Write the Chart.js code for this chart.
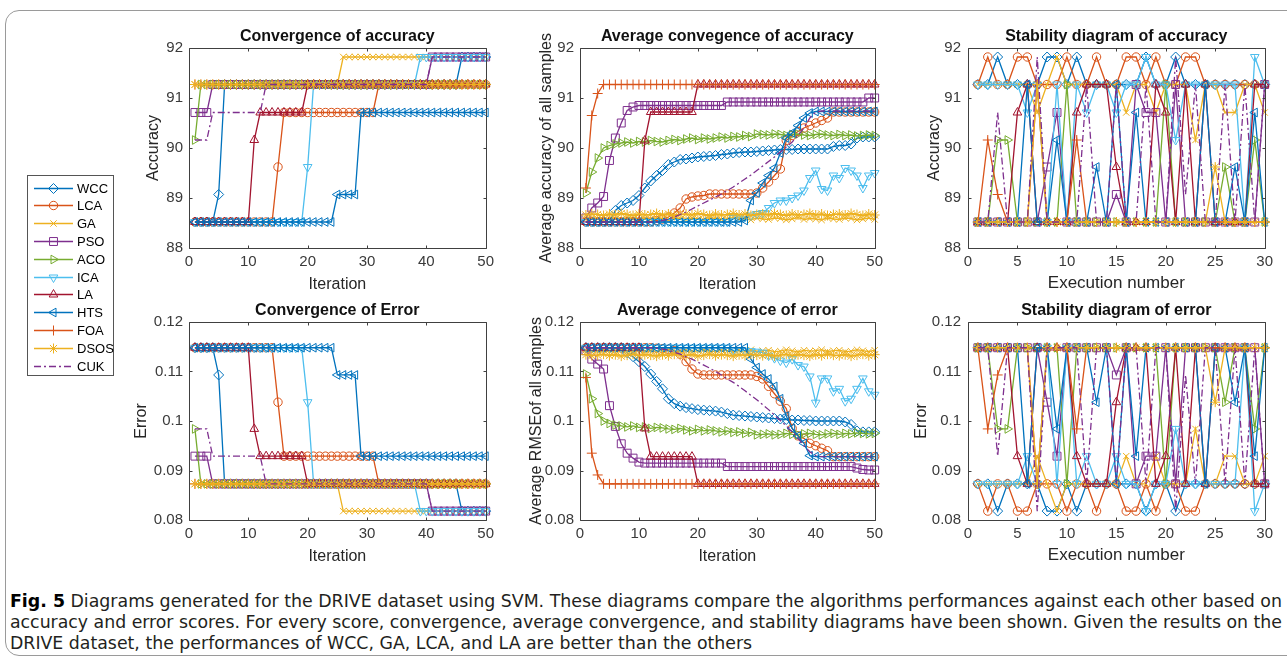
<!DOCTYPE html>
<html><head><meta charset="utf-8">
<script src="https://cdn.jsdelivr.net/npm/chart.js@4.4.1/dist/chart.umd.min.js"></script>
<style>
html,body{margin:0;padding:0;background:#fff}
body{width:1287px;height:662px;position:relative;overflow:hidden}
#frame{position:absolute;left:5px;top:10px;width:1310px;height:646px;border:1.5px solid #9a9a9a;border-radius:14px;box-sizing:border-box}
canvas{position:absolute;display:block}
.cap{position:absolute;left:10px;white-space:nowrap;font-family:"Liberation Sans Narrow","DejaVu Sans Condensed","Liberation Sans",sans-serif;font-size:18px;color:#231f20;transform-origin:0 0;line-height:21px}
.cap b{font-weight:bold;color:#000}
</style></head><body>
<div id="frame"></div>
<canvas id="lg" width="100" height="215" style="left:20px;top:168px"></canvas>
<canvas id="c1" width="369" height="274" style="left:130px;top:20px"></canvas>
<canvas id="c2" width="368" height="274" style="left:520px;top:20px"></canvas>
<canvas id="c3" width="378" height="274" style="left:900px;top:20px"></canvas>
<canvas id="c4" width="369" height="272" style="left:130px;top:294px"></canvas>
<canvas id="c5" width="368" height="272" style="left:520px;top:294px"></canvas>
<canvas id="c6" width="378" height="272" style="left:900px;top:294px"></canvas>
<div class="cap" id="l1" style="top:590px"><b>Fig. 5</b> Diagrams generated for the DRIVE dataset using SVM. These diagrams compare the algorithms performances against each other based on</div>
<div class="cap" id="l2" style="top:611px">accuracy and error scores. For every score, convergence, average convergence, and stability diagrams have been shown. Given the results on the</div>
<div class="cap" id="l3" style="top:632px">DRIVE dataset, the performances of WCC, GA, LCA, and LA are better than the others</div>
<script>
// ---------------- DATA ----------------
const algorithms = ['WCC','LCA','GA','PSO','ACO','ICA','LA','HTS','FOA','DSOS','CUK'];
const iterations = [1,2,3,4,5,6,7,8,9,10,11,12,13,14,15,16,17,18,19,20,21,22,23,24,25,26,27,28,29,30,31,32,33,34,35,36,37,38,39,40,41,42,43,44,45,46,47,48,49,50];
const executions = [1,2,3,4,5,6,7,8,9,10,11,12,13,14,15,16,17,18,19,20,21,22,23,24,25,26,27,28,29,30];
const accTicks = [88,89,90,91,92];
const errTicks = [0.08,0.09,0.1,0.11,0.12];

// Convergence of accuracy
const accConv_WCC = [88.52,88.52,88.52,88.52,89.07,91.27,91.27,91.27,91.27,91.27,
91.27,91.27,91.27,91.27,91.27,91.27,91.27,91.27,91.27,91.27,
91.27,91.27,91.27,91.27,91.27,91.27,91.27,91.27,91.27,91.27,
91.27,91.27,91.27,91.27,91.27,91.27,91.27,91.27,91.27,91.27,
91.27,91.27,91.27,91.27,91.27,91.82,91.82,91.82,91.82,91.82];
const accConv_LCA = [88.52,88.52,88.52,88.52,88.52,88.52,88.52,88.52,88.52,88.52,
88.52,88.52,88.52,88.52,89.62,90.71,90.71,90.71,90.71,90.71,
90.71,90.71,90.71,90.71,90.71,90.71,90.71,90.71,90.71,90.71,
90.71,91.27,91.27,91.27,91.27,91.27,91.27,91.27,91.27,91.27,
91.27,91.27,91.27,91.27,91.27,91.27,91.27,91.27,91.27,91.27];
const accConv_GA = [91.27,91.27,91.27,91.27,91.27,91.27,91.27,91.27,91.27,91.27,
91.27,91.27,91.27,91.27,91.27,91.27,91.27,91.27,91.27,91.27,
91.27,91.27,91.27,91.27,91.27,91.82,91.82,91.82,91.82,91.82,
91.82,91.82,91.82,91.82,91.82,91.82,91.82,91.82,91.82,91.82,
91.82,91.82,91.82,91.82,91.82,91.82,91.82,91.82,91.82,91.82];
const accConv_PSO = [90.71,90.71,90.71,91.27,91.27,91.27,91.27,91.27,91.27,91.27,
91.27,91.27,91.27,91.27,91.27,91.27,91.27,91.27,91.27,91.27,
91.27,91.27,91.27,91.27,91.27,91.27,91.27,91.27,91.27,91.27,
91.27,91.27,91.27,91.27,91.27,91.27,91.27,91.27,91.27,91.27,
91.82,91.82,91.82,91.82,91.82,91.82,91.82,91.82,91.82,91.82];
const accConv_ACO = [90.16,91.27,91.27,91.27,91.27,91.27,91.27,91.27,91.27,91.27,
91.27,91.27,91.27,91.27,91.27,91.27,91.27,91.27,91.27,91.27,
91.27,91.27,91.27,91.27,91.27,91.27,91.27,91.27,91.27,91.27,
91.27,91.27,91.27,91.27,91.27,91.27,91.27,91.27,91.27,91.27,
91.27,91.27,91.27,91.27,91.27,91.27,91.27,91.27,91.27,91.27];
const accConv_ICA = [88.52,88.52,88.52,88.52,88.52,88.52,88.52,88.52,88.52,88.52,
88.52,88.52,88.52,88.52,88.52,88.52,88.52,88.52,88.52,89.62,
91.27,91.27,91.27,91.27,91.27,91.27,91.27,91.27,91.27,91.27,
91.27,91.27,91.27,91.27,91.27,91.27,91.27,91.27,91.82,91.82,
91.82,91.82,91.82,91.82,91.82,91.82,91.82,91.82,91.82,91.82];
const accConv_LA = [88.52,88.52,88.52,88.52,88.52,88.52,88.52,88.52,88.52,88.52,
90.16,90.71,90.71,90.71,90.71,90.71,90.71,90.71,90.71,91.27,
91.27,91.27,91.27,91.27,91.27,91.27,91.27,91.27,91.27,91.27,
91.27,91.27,91.27,91.27,91.27,91.27,91.27,91.27,91.27,91.27,
91.27,91.27,91.27,91.27,91.27,91.27,91.27,91.27,91.27,91.27];
const accConv_HTS = [88.52,88.52,88.52,88.52,88.52,88.52,88.52,88.52,88.52,88.52,
88.52,88.52,88.52,88.52,88.52,88.52,88.52,88.52,88.52,88.52,
88.52,88.52,88.52,88.52,89.07,89.07,89.07,89.07,90.71,90.71,
90.71,90.71,90.71,90.71,90.71,90.71,90.71,90.71,90.71,90.71,
90.71,90.71,90.71,90.71,90.71,90.71,90.71,90.71,90.71,90.71];
const accConv_FOA = [91.27,91.27,91.27,91.27,91.27,91.27,91.27,91.27,91.27,91.27,
91.27,91.27,91.27,91.27,91.27,91.27,91.27,91.27,91.27,91.27,
91.27,91.27,91.27,91.27,91.27,91.27,91.27,91.27,91.27,91.27,
91.27,91.27,91.27,91.27,91.27,91.27,91.27,91.27,91.27,91.27,
91.27,91.27,91.27,91.27,91.27,91.27,91.27,91.27,91.27,91.27];
const accConv_DSOS = [91.27,91.27,91.27,91.27,91.27,91.27,91.27,91.27,91.27,91.27,
91.27,91.27,91.27,91.27,91.27,91.27,91.27,91.27,91.27,91.27,
91.27,91.27,91.27,91.27,91.27,91.27,91.27,91.27,91.27,91.27,
91.27,91.27,91.27,91.27,91.27,91.27,91.27,91.27,91.27,91.27,
91.27,91.27,91.27,91.27,91.27,91.27,91.27,91.27,91.27,91.27];
const accConv_CUK = [90.16,90.16,90.16,90.71,90.71,90.71,90.71,90.71,90.71,90.71,
90.71,90.71,91.27,91.27,91.27,91.27,91.27,91.27,91.27,91.27,
91.27,91.27,91.27,91.27,91.27,91.27,91.27,91.27,91.27,91.27,
91.27,91.27,91.27,91.27,91.27,91.27,91.27,91.27,91.27,91.27,
91.82,91.82,91.82,91.82,91.82,91.82,91.82,91.82,91.82,91.82];

// Average convergence of accuracy
const accAvg_WCC = [88.52,88.52,88.52,88.52,88.52,88.75,88.85,88.9,88.95,89.05,
89.2,89.34,89.45,89.55,89.67,89.72,89.77,89.78,89.8,89.82,
89.83,89.84,89.85,89.87,89.88,89.9,89.91,89.92,89.92,89.93,
89.94,89.95,89.96,89.97,89.97,89.97,89.98,89.98,89.98,89.98,
89.98,89.98,90.03,90.05,90.05,90.08,90.2,90.22,90.22,90.22];
const accAvg_LCA = [88.52,88.52,88.52,88.52,88.52,88.52,88.52,88.52,88.52,88.52,
88.52,88.52,88.55,88.58,88.62,88.7,88.8,88.98,89.02,89.04,
89.05,89.08,89.08,89.08,89.08,89.08,89.08,89.08,89.08,89.1,
89.2,89.32,89.45,89.58,90.15,90.25,90.33,90.4,90.45,90.5,
90.55,90.6,90.72,90.72,90.72,90.72,90.72,90.72,90.72,90.72];
const accAvg_GA = [88.57,88.6,88.58,88.56,88.6,88.58,88.57,88.61,88.58,88.56,
88.59,88.57,88.6,88.58,88.56,88.6,88.59,88.57,88.6,88.58,
88.56,88.59,88.6,88.57,88.58,88.61,88.57,88.59,88.56,88.6,
88.58,88.57,88.6,88.59,88.56,88.58,88.61,88.57,88.59,88.58,
88.56,88.6,88.58,88.57,88.6,88.59,88.56,88.58,88.6,88.57];
const accAvg_PSO = [88.6,88.8,88.9,89.03,89.75,90.2,90.5,90.75,90.82,90.85,
90.85,90.85,90.85,90.85,90.85,90.85,90.85,90.85,90.85,90.85,
90.85,90.85,90.85,90.85,90.92,90.92,90.92,90.92,90.92,90.92,
90.92,90.92,90.92,90.92,90.92,90.92,90.92,90.92,90.92,90.92,
90.92,90.92,90.92,90.92,90.92,90.92,90.92,90.92,91.0,91.0];
const accAvg_ACO = [89.1,89.52,89.8,90.0,90.05,90.08,90.1,90.12,90.1,90.13,
90.12,90.15,90.13,90.12,90.15,90.17,90.15,90.18,90.2,90.17,
90.2,90.18,90.2,90.22,90.2,90.23,90.22,90.25,90.23,90.28,
90.27,90.26,90.28,90.27,90.25,90.27,90.28,90.26,90.25,90.27,
90.28,90.26,90.25,90.27,90.25,90.26,90.24,90.25,90.26,90.25];
const accAvg_ICA = [88.52,88.52,88.52,88.52,88.52,88.52,88.52,88.52,88.52,88.52,
88.52,88.52,88.52,88.52,88.52,88.52,88.52,88.52,88.52,88.52,
88.52,88.52,88.52,88.52,88.52,88.6,88.62,88.62,88.65,88.68,
88.7,88.8,88.9,88.95,88.95,89.0,89.05,89.15,89.4,89.55,
89.18,89.15,89.45,89.4,89.6,89.55,89.45,89.2,89.45,89.5];
const accAvg_LA = [88.52,88.52,88.52,88.52,88.52,88.52,88.52,88.52,88.52,88.52,
90.15,90.72,90.72,90.72,90.72,90.72,90.72,90.72,90.72,91.27,
91.27,91.27,91.27,91.27,91.27,91.27,91.27,91.27,91.27,91.27,
91.27,91.27,91.27,91.27,91.27,91.27,91.27,91.27,91.27,91.27,
91.27,91.27,91.27,91.27,91.27,91.27,91.27,91.27,91.27,91.27];
const accAvg_HTS = [88.52,88.52,88.52,88.52,88.52,88.52,88.52,88.52,88.52,88.52,
88.52,88.52,88.52,88.52,88.52,88.52,88.52,88.52,88.52,88.52,
88.52,88.52,88.52,88.52,88.52,88.52,88.52,88.55,88.95,89.1,
89.3,89.45,89.6,89.9,90.2,90.3,90.45,90.6,90.7,90.73,
90.73,90.73,90.73,90.73,90.73,90.73,90.73,90.73,90.73,90.73];
const accAvg_FOA = [89.2,90.65,91.09,91.27,91.27,91.27,91.27,91.27,91.27,91.27,
91.27,91.27,91.27,91.27,91.27,91.27,91.27,91.27,91.27,91.27,
91.27,91.27,91.27,91.27,91.27,91.27,91.27,91.27,91.27,91.27,
91.27,91.27,91.27,91.27,91.27,91.27,91.27,91.27,91.27,91.27,
91.27,91.27,91.27,91.27,91.27,91.27,91.27,91.27,91.27,91.27];
const accAvg_DSOS = [88.66,88.68,88.67,88.65,88.68,88.66,88.69,88.67,88.65,88.68,
88.66,88.67,88.69,88.66,88.68,88.65,88.67,88.68,88.66,88.69,
88.67,88.65,88.68,88.66,88.67,88.69,88.66,88.68,88.65,88.67,
88.68,88.66,88.69,88.67,88.65,88.68,88.66,88.67,88.69,88.66,
88.68,88.65,88.67,88.68,88.66,88.69,88.67,88.65,88.68,88.66];
const accAvg_CUK = [88.52,88.52,88.52,88.52,88.52,88.52,88.52,88.52,88.52,88.52,
88.52,88.52,88.52,88.55,88.58,88.62,88.67,88.72,88.78,88.84,
88.9,88.96,89.02,89.08,89.15,89.22,89.3,89.38,89.46,89.55,
89.64,89.73,89.82,89.92,90.02,90.12,90.25,90.4,90.6,90.72,
90.74,90.74,90.74,90.74,90.74,90.74,90.74,90.74,90.74,90.74];

// Stability of accuracy
const accStab_WCC = [91.27,91.27,91.82,91.27,91.27,91.27,91.27,91.82,91.82,91.27,91.82,91.27,91.27,91.27,91.27,91.27,91.27,91.82,91.27,91.27,91.82,91.27,91.27,91.27,91.27,91.27,91.27,91.27,91.27,91.27];
const accStab_LCA = [91.27,91.82,91.27,91.27,91.82,91.82,91.27,91.27,91.27,91.82,91.27,91.27,91.82,91.27,91.27,91.82,91.82,91.27,91.82,91.27,91.27,91.82,91.82,91.27,91.27,91.27,91.27,91.27,91.27,91.27];
const accStab_GA = [91.27,91.27,91.27,91.27,91.27,91.27,90.71,91.27,91.82,91.27,91.27,91.27,91.27,91.27,91.27,90.71,91.27,91.27,90.71,91.27,91.27,91.27,90.16,91.27,91.27,90.71,90.71,91.27,91.27,90.71];
const accStab_PSO = [88.52,88.52,88.52,88.52,88.52,88.52,88.52,89.62,90.71,88.52,88.52,88.52,88.52,88.52,89.07,88.52,91.27,90.71,90.71,88.52,91.27,88.52,88.52,88.52,88.52,88.52,88.52,88.52,88.52,91.27];
const accStab_ACO = [88.52,88.52,90.16,90.16,88.52,88.52,88.52,88.52,88.52,91.27,88.52,88.52,88.52,88.52,88.52,88.52,88.52,88.52,88.52,91.27,88.52,88.52,88.52,88.52,88.52,89.62,88.52,88.52,90.16,88.52];
const accStab_ICA = [91.27,91.27,91.27,91.27,91.27,90.71,91.27,88.52,91.27,88.52,91.27,90.71,91.27,91.27,90.71,91.27,91.27,91.82,91.27,91.27,90.16,91.27,91.27,91.27,91.27,91.27,91.27,88.52,91.82,91.27];
const accStab_LA = [88.52,88.52,88.52,88.52,90.71,91.27,88.52,88.52,88.52,88.52,90.71,91.27,91.27,91.27,89.62,88.52,88.52,88.52,91.27,90.71,88.52,91.27,88.52,91.27,88.52,88.52,88.52,88.52,91.27,91.27];
const accStab_HTS = [88.52,88.52,88.52,88.52,88.52,91.27,88.52,88.52,90.16,88.52,88.52,88.52,89.62,88.52,91.27,88.52,90.71,88.52,88.52,88.52,88.52,88.52,88.52,91.27,88.52,88.52,89.62,88.52,90.71,88.52];
const accStab_FOA = [88.52,90.16,89.07,88.52,88.52,88.52,91.27,88.52,88.52,88.52,90.16,88.52,88.52,88.52,88.52,88.52,88.52,88.52,88.52,88.52,88.52,88.52,88.52,88.52,88.52,88.52,88.52,88.52,88.52,88.52];
const accStab_DSOS = [88.52,88.52,88.52,88.52,88.52,88.52,91.27,88.52,88.52,88.52,88.52,88.52,88.52,88.52,88.52,88.52,88.52,88.52,88.52,88.52,88.52,88.52,88.52,88.52,89.62,88.52,88.52,88.52,88.52,88.52];
const accStab_CUK = [88.52,88.52,90.71,88.52,88.52,88.52,91.82,88.52,88.52,88.52,88.52,91.27,88.52,88.52,91.27,88.52,88.52,91.27,88.52,88.52,91.82,89.07,91.27,88.52,88.52,91.27,88.52,91.27,88.52,91.27];

// Convergence of error
const errConv_WCC = [0.1148,0.1148,0.1148,0.1148,0.1093,0.0873,0.0873,0.0873,0.0873,0.0873,
0.0873,0.0873,0.0873,0.0873,0.0873,0.0873,0.0873,0.0873,0.0873,0.0873,
0.0873,0.0873,0.0873,0.0873,0.0873,0.0873,0.0873,0.0873,0.0873,0.0873,
0.0873,0.0873,0.0873,0.0873,0.0873,0.0873,0.0873,0.0873,0.0873,0.0873,
0.0873,0.0873,0.0873,0.0873,0.0873,0.0818,0.0818,0.0818,0.0818,0.0818];
const errConv_LCA = [0.1148,0.1148,0.1148,0.1148,0.1148,0.1148,0.1148,0.1148,0.1148,0.1148,
0.1148,0.1148,0.1148,0.1148,0.1038,0.0929,0.0929,0.0929,0.0929,0.0929,
0.0929,0.0929,0.0929,0.0929,0.0929,0.0929,0.0929,0.0929,0.0929,0.0929,
0.0929,0.0873,0.0873,0.0873,0.0873,0.0873,0.0873,0.0873,0.0873,0.0873,
0.0873,0.0873,0.0873,0.0873,0.0873,0.0873,0.0873,0.0873,0.0873,0.0873];
const errConv_GA = [0.0873,0.0873,0.0873,0.0873,0.0873,0.0873,0.0873,0.0873,0.0873,0.0873,
0.0873,0.0873,0.0873,0.0873,0.0873,0.0873,0.0873,0.0873,0.0873,0.0873,
0.0873,0.0873,0.0873,0.0873,0.0873,0.0818,0.0818,0.0818,0.0818,0.0818,
0.0818,0.0818,0.0818,0.0818,0.0818,0.0818,0.0818,0.0818,0.0818,0.0818,
0.0818,0.0818,0.0818,0.0818,0.0818,0.0818,0.0818,0.0818,0.0818,0.0818];
const errConv_PSO = [0.0929,0.0929,0.0929,0.0873,0.0873,0.0873,0.0873,0.0873,0.0873,0.0873,
0.0873,0.0873,0.0873,0.0873,0.0873,0.0873,0.0873,0.0873,0.0873,0.0873,
0.0873,0.0873,0.0873,0.0873,0.0873,0.0873,0.0873,0.0873,0.0873,0.0873,
0.0873,0.0873,0.0873,0.0873,0.0873,0.0873,0.0873,0.0873,0.0873,0.0873,
0.0818,0.0818,0.0818,0.0818,0.0818,0.0818,0.0818,0.0818,0.0818,0.0818];
const errConv_ACO = [0.0984,0.0873,0.0873,0.0873,0.0873,0.0873,0.0873,0.0873,0.0873,0.0873,
0.0873,0.0873,0.0873,0.0873,0.0873,0.0873,0.0873,0.0873,0.0873,0.0873,
0.0873,0.0873,0.0873,0.0873,0.0873,0.0873,0.0873,0.0873,0.0873,0.0873,
0.0873,0.0873,0.0873,0.0873,0.0873,0.0873,0.0873,0.0873,0.0873,0.0873,
0.0873,0.0873,0.0873,0.0873,0.0873,0.0873,0.0873,0.0873,0.0873,0.0873];
const errConv_ICA = [0.1148,0.1148,0.1148,0.1148,0.1148,0.1148,0.1148,0.1148,0.1148,0.1148,
0.1148,0.1148,0.1148,0.1148,0.1148,0.1148,0.1148,0.1148,0.1148,0.1038,
0.0873,0.0873,0.0873,0.0873,0.0873,0.0873,0.0873,0.0873,0.0873,0.0873,
0.0873,0.0873,0.0873,0.0873,0.0873,0.0873,0.0873,0.0873,0.0818,0.0818,
0.0818,0.0818,0.0818,0.0818,0.0818,0.0818,0.0818,0.0818,0.0818,0.0818];
const errConv_LA = [0.1148,0.1148,0.1148,0.1148,0.1148,0.1148,0.1148,0.1148,0.1148,0.1148,
0.0984,0.0929,0.0929,0.0929,0.0929,0.0929,0.0929,0.0929,0.0929,0.0873,
0.0873,0.0873,0.0873,0.0873,0.0873,0.0873,0.0873,0.0873,0.0873,0.0873,
0.0873,0.0873,0.0873,0.0873,0.0873,0.0873,0.0873,0.0873,0.0873,0.0873,
0.0873,0.0873,0.0873,0.0873,0.0873,0.0873,0.0873,0.0873,0.0873,0.0873];
const errConv_HTS = [0.1148,0.1148,0.1148,0.1148,0.1148,0.1148,0.1148,0.1148,0.1148,0.1148,
0.1148,0.1148,0.1148,0.1148,0.1148,0.1148,0.1148,0.1148,0.1148,0.1148,
0.1148,0.1148,0.1148,0.1148,0.1093,0.1093,0.1093,0.1093,0.0929,0.0929,
0.0929,0.0929,0.0929,0.0929,0.0929,0.0929,0.0929,0.0929,0.0929,0.0929,
0.0929,0.0929,0.0929,0.0929,0.0929,0.0929,0.0929,0.0929,0.0929,0.0929];
const errConv_FOA = [0.0873,0.0873,0.0873,0.0873,0.0873,0.0873,0.0873,0.0873,0.0873,0.0873,
0.0873,0.0873,0.0873,0.0873,0.0873,0.0873,0.0873,0.0873,0.0873,0.0873,
0.0873,0.0873,0.0873,0.0873,0.0873,0.0873,0.0873,0.0873,0.0873,0.0873,
0.0873,0.0873,0.0873,0.0873,0.0873,0.0873,0.0873,0.0873,0.0873,0.0873,
0.0873,0.0873,0.0873,0.0873,0.0873,0.0873,0.0873,0.0873,0.0873,0.0873];
const errConv_DSOS = [0.0873,0.0873,0.0873,0.0873,0.0873,0.0873,0.0873,0.0873,0.0873,0.0873,
0.0873,0.0873,0.0873,0.0873,0.0873,0.0873,0.0873,0.0873,0.0873,0.0873,
0.0873,0.0873,0.0873,0.0873,0.0873,0.0873,0.0873,0.0873,0.0873,0.0873,
0.0873,0.0873,0.0873,0.0873,0.0873,0.0873,0.0873,0.0873,0.0873,0.0873,
0.0873,0.0873,0.0873,0.0873,0.0873,0.0873,0.0873,0.0873,0.0873,0.0873];
const errConv_CUK = [0.0984,0.0984,0.0984,0.0929,0.0929,0.0929,0.0929,0.0929,0.0929,0.0929,
0.0929,0.0929,0.0873,0.0873,0.0873,0.0873,0.0873,0.0873,0.0873,0.0873,
0.0873,0.0873,0.0873,0.0873,0.0873,0.0873,0.0873,0.0873,0.0873,0.0873,
0.0873,0.0873,0.0873,0.0873,0.0873,0.0873,0.0873,0.0873,0.0873,0.0873,
0.0818,0.0818,0.0818,0.0818,0.0818,0.0818,0.0818,0.0818,0.0818,0.0818];

// Average convergence of error
const errAvg_WCC = [0.1148,0.1148,0.1148,0.1148,0.1148,0.1148,0.1148,0.1138,0.113,0.112,
0.111,0.1095,0.108,0.1065,0.1045,0.1035,0.103,0.1027,0.1025,0.1023,
0.1022,0.1021,0.102,0.1018,0.1015,0.1012,0.1011,0.101,0.1009,0.1008,
0.1007,0.1006,0.1005,0.1004,0.1003,0.1002,0.1002,0.1001,0.1001,0.1,
0.1,0.1,0.1,0.1,0.0998,0.0993,0.098,0.0978,0.0978,0.0978];
const errAvg_LCA = [0.1148,0.1148,0.1148,0.1148,0.1148,0.1148,0.1148,0.1148,0.1148,0.1148,
0.1148,0.1148,0.1147,0.1146,0.1145,0.1142,0.1135,0.112,0.1105,0.1095,
0.1093,0.1093,0.1093,0.1093,0.1093,0.1093,0.1093,0.1093,0.1093,0.109,
0.1085,0.107,0.1055,0.104,0.1025,0.0985,0.097,0.0965,0.0955,0.095,
0.0945,0.094,0.0928,0.0928,0.0928,0.0928,0.0928,0.0928,0.0928,0.0928];
const errAvg_GA = [0.1143,0.114,0.1142,0.1144,0.114,0.1142,0.1143,0.1139,0.1142,0.1144,
0.1141,0.1143,0.114,0.1142,0.1144,0.114,0.1141,0.1143,0.114,0.1142,
0.1144,0.1141,0.114,0.1143,0.1142,0.1139,0.1143,0.1141,0.1144,0.114,
0.1142,0.1143,0.114,0.1141,0.1144,0.1142,0.1139,0.1143,0.1141,0.1142,
0.1144,0.114,0.1142,0.1143,0.114,0.1141,0.1144,0.1142,0.114,0.1143];
const errAvg_PSO = [0.1142,0.1125,0.1115,0.1105,0.1031,0.0989,0.0954,0.0935,0.0925,0.0917,
0.0915,0.0915,0.0915,0.0915,0.0915,0.0915,0.0915,0.0915,0.0915,0.0915,
0.0915,0.0915,0.0915,0.0915,0.0908,0.0908,0.0908,0.0908,0.0908,0.0908,
0.0908,0.0908,0.0908,0.0908,0.0908,0.0908,0.0908,0.0908,0.0908,0.0908,
0.0908,0.0908,0.0908,0.0908,0.0908,0.0908,0.0905,0.0902,0.0901,0.0901];
const errAvg_ACO = [0.1095,0.1045,0.1015,0.1,0.0995,0.0992,0.099,0.0988,0.099,0.0987,
0.0988,0.0985,0.0987,0.0986,0.0984,0.0983,0.0985,0.0982,0.098,0.0983,
0.098,0.0982,0.098,0.0978,0.098,0.0977,0.0978,0.0975,0.0977,0.0972,
0.0973,0.0974,0.0972,0.0973,0.0975,0.0973,0.0972,0.0974,0.0975,0.0973,
0.0972,0.0974,0.0975,0.0973,0.0975,0.0974,0.0976,0.0975,0.0974,0.0975];
const errAvg_ICA = [0.1148,0.1148,0.1148,0.1148,0.1148,0.1148,0.1148,0.1148,0.1148,0.1148,
0.1148,0.1148,0.1148,0.1148,0.1148,0.1148,0.1148,0.1148,0.1148,0.1148,
0.1148,0.1148,0.1148,0.1148,0.1148,0.1143,0.1142,0.1142,0.1141,0.114,
0.1138,0.1132,0.1127,0.1122,0.1118,0.1125,0.1113,0.111,0.109,0.1037,
0.1086,0.1086,0.106,0.1065,0.104,0.1045,0.1065,0.1086,0.106,0.1053];
const errAvg_LA = [0.1148,0.1148,0.1148,0.1148,0.1148,0.1148,0.1148,0.1148,0.1148,0.1148,
0.0985,0.0928,0.0928,0.0928,0.0928,0.0928,0.0928,0.0928,0.0928,0.0873,
0.0873,0.0873,0.0873,0.0873,0.0873,0.0873,0.0873,0.0873,0.0873,0.0873,
0.0873,0.0873,0.0873,0.0873,0.0873,0.0873,0.0873,0.0873,0.0873,0.0873,
0.0873,0.0873,0.0873,0.0873,0.0873,0.0873,0.0873,0.0873,0.0873,0.0873];
const errAvg_HTS = [0.1148,0.1148,0.1148,0.1148,0.1148,0.1148,0.1148,0.1148,0.1148,0.1148,
0.1148,0.1148,0.1148,0.1148,0.1148,0.1148,0.1148,0.1148,0.1148,0.1148,
0.1148,0.1148,0.1148,0.1148,0.1148,0.1148,0.1148,0.1148,0.1125,0.1108,
0.1095,0.1085,0.107,0.1045,0.101,0.0985,0.097,0.0955,0.093,0.0928,
0.0928,0.0928,0.0928,0.0928,0.0928,0.0928,0.0928,0.0928,0.0928,0.0928];
const errAvg_FOA = [0.1088,0.0935,0.0891,0.0873,0.0873,0.0873,0.0873,0.0873,0.0873,0.0873,
0.0873,0.0873,0.0873,0.0873,0.0873,0.0873,0.0873,0.0873,0.0873,0.0873,
0.0873,0.0873,0.0873,0.0873,0.0873,0.0873,0.0873,0.0873,0.0873,0.0873,
0.0873,0.0873,0.0873,0.0873,0.0873,0.0873,0.0873,0.0873,0.0873,0.0873,
0.0873,0.0873,0.0873,0.0873,0.0873,0.0873,0.0873,0.0873,0.0873,0.0873];
const errAvg_DSOS = [0.1134,0.1132,0.1133,0.1135,0.1132,0.1134,0.1131,0.1133,0.1135,0.1132,
0.1134,0.1133,0.1131,0.1134,0.1132,0.1135,0.1133,0.1132,0.1134,0.1131,
0.1133,0.1135,0.1132,0.1134,0.1133,0.1131,0.1134,0.1132,0.1135,0.1133,
0.1132,0.1134,0.1131,0.1133,0.1135,0.1132,0.1134,0.1133,0.1131,0.1134,
0.1132,0.1135,0.1133,0.1132,0.1134,0.1131,0.1133,0.1135,0.1132,0.1134];
const errAvg_CUK = [0.1148,0.1148,0.1148,0.1148,0.1148,0.1148,0.1148,0.1148,0.1148,0.1148,
0.1148,0.1148,0.1147,0.1145,0.1143,0.1139,0.1135,0.113,0.1125,0.1119,
0.1113,0.1107,0.11,0.1093,0.1085,0.1078,0.107,0.1061,0.1052,0.1043,
0.1033,0.1023,0.1012,0.1001,0.099,0.0978,0.0965,0.095,0.0938,0.093,
0.0928,0.0928,0.0928,0.0928,0.0928,0.0928,0.0928,0.0928,0.0928,0.0928];

// Stability of error
const errStab_WCC = [0.0873,0.0873,0.0818,0.0873,0.0873,0.0873,0.0873,0.0818,0.0818,0.0873,0.0818,0.0873,0.0873,0.0873,0.0873,0.0873,0.0873,0.0818,0.0873,0.0873,0.0818,0.0873,0.0873,0.0873,0.0873,0.0873,0.0873,0.0873,0.0873,0.0873];
const errStab_LCA = [0.0873,0.0818,0.0873,0.0873,0.0818,0.0818,0.0873,0.0873,0.0873,0.0818,0.0873,0.0873,0.0818,0.0873,0.0873,0.0818,0.0818,0.0873,0.0818,0.0873,0.0873,0.0818,0.0818,0.0873,0.0873,0.0873,0.0873,0.0873,0.0873,0.0873];
const errStab_GA = [0.0873,0.0873,0.0873,0.0873,0.0873,0.0873,0.0929,0.0873,0.0818,0.0873,0.0873,0.0873,0.0873,0.0873,0.0873,0.0929,0.0873,0.0873,0.0929,0.0873,0.0873,0.0873,0.0984,0.0873,0.0873,0.0929,0.0929,0.0873,0.0873,0.0929];
const errStab_PSO = [0.1148,0.1148,0.1148,0.1148,0.1148,0.1148,0.1148,0.1038,0.0929,0.1148,0.1148,0.1148,0.1148,0.1148,0.1093,0.1148,0.0873,0.0929,0.0929,0.1148,0.0873,0.1148,0.1148,0.1148,0.1148,0.1148,0.1148,0.1148,0.1148,0.0873];
const errStab_ACO = [0.1148,0.1148,0.0984,0.0984,0.1148,0.1148,0.1148,0.1148,0.1148,0.0873,0.1148,0.1148,0.1148,0.1148,0.1148,0.1148,0.1148,0.1148,0.1148,0.0873,0.1148,0.1148,0.1148,0.1148,0.1148,0.1038,0.1148,0.1148,0.0984,0.1148];
const errStab_ICA = [0.0873,0.0873,0.0873,0.0873,0.0873,0.0929,0.0873,0.1148,0.0873,0.1148,0.0873,0.0929,0.0873,0.0873,0.0929,0.0873,0.0873,0.0818,0.0873,0.0873,0.0984,0.0873,0.0873,0.0873,0.0873,0.0873,0.0873,0.1148,0.0818,0.0873];
const errStab_LA = [0.1148,0.1148,0.1148,0.1148,0.0929,0.0873,0.1148,0.1148,0.1148,0.1148,0.0929,0.0873,0.0873,0.0873,0.1038,0.1148,0.1148,0.1148,0.0873,0.0929,0.1148,0.0873,0.1148,0.0873,0.1148,0.1148,0.1148,0.1148,0.0873,0.0873];
const errStab_HTS = [0.1148,0.1148,0.1148,0.1148,0.1148,0.0873,0.1148,0.1148,0.0984,0.1148,0.1148,0.1148,0.1038,0.1148,0.0873,0.1148,0.0929,0.1148,0.1148,0.1148,0.1148,0.1148,0.1148,0.0873,0.1148,0.1148,0.1038,0.1148,0.0929,0.1148];
const errStab_FOA = [0.1148,0.0984,0.1093,0.1148,0.1148,0.1148,0.0873,0.1148,0.1148,0.1148,0.0984,0.1148,0.1148,0.1148,0.1148,0.1148,0.1148,0.1148,0.1148,0.1148,0.1148,0.1148,0.1148,0.1148,0.1148,0.1148,0.1148,0.1148,0.1148,0.1148];
const errStab_DSOS = [0.1148,0.1148,0.1148,0.1148,0.1148,0.1148,0.0873,0.1148,0.1148,0.1148,0.1148,0.1148,0.1148,0.1148,0.1148,0.1148,0.1148,0.1148,0.1148,0.1148,0.1148,0.1148,0.1148,0.1148,0.1038,0.1148,0.1148,0.1148,0.1148,0.1148];
const errStab_CUK = [0.1148,0.1148,0.0929,0.1148,0.1148,0.1148,0.0818,0.1148,0.1148,0.1148,0.1148,0.0873,0.1148,0.1148,0.0873,0.1148,0.1148,0.0873,0.1148,0.1148,0.0818,0.1093,0.0873,0.1148,0.1148,0.0873,0.1148,0.0873,0.1148,0.0873];

// ---------------- STYLES ----------------
const FONT = '"Liberation Sans", Arial, Helvetica, sans-serif';
const STYLE = {
  WCC:{c:'#0072BD',p:'rectRot',r:5,rot:0},
  LCA:{c:'#D95319',p:'circle',r:4.2,rot:0},
  GA:{c:'#EDB120',p:'crossRot',r:4.5,rot:0},
  PSO:{c:'#7E2F8E',p:'rect',r:5.6,rot:0},
  ACO:{c:'#77AC30',p:'triangle',r:5,rot:90},
  ICA:{c:'#4DBEEE',p:'triangle',r:5,rot:180},
  LA:{c:'#A2142F',p:'triangle',r:5,rot:0},
  HTS:{c:'#0072BD',p:'triangle',r:5,rot:270},
  FOA:{c:'#D95319',p:'cross',r:5,rot:0},
  DSOS:{c:'#EDB120',p:'star',r:5,rot:0},
  CUK:{c:'#7E2F8E',p:false,r:0,rot:0,dash:[7,3,2,3]}
};

const matlabFrame = {
  id:'matlabFrame',
  afterDraw(chart, args, opts){
    const ctx = chart.ctx, a = chart.chartArea;
    const xs = chart.scales.x, ys = chart.scales.y;
    ctx.save();
    ctx.strokeStyle = '#404040'; ctx.lineWidth = 1;
    const L = Math.round(a.left)+0.5, R = Math.round(a.right)+0.5, T = Math.round(a.top)+0.5, B = Math.round(a.bottom)+0.5;
    ctx.beginPath(); ctx.rect(L, T, R-L, B-T); ctx.stroke();
    ctx.beginPath();
    xs.ticks.forEach(t => { const p = Math.round(xs.getPixelForValue(t.value))+0.5; ctx.moveTo(p,B); ctx.lineTo(p,B-3); ctx.moveTo(p,T); ctx.lineTo(p,T+3); });
    ys.ticks.forEach(t => { const p = Math.round(ys.getPixelForValue(t.value))+0.5; ctx.moveTo(L,p); ctx.lineTo(L+3,p); ctx.moveTo(R,p); ctx.lineTo(R-3,p); });
    ctx.stroke();
    if (opts.yTitle){
      ctx.translate(opts.yTitleX, (a.top+a.bottom)/2);
      ctx.rotate(-Math.PI/2);
      ctx.fillStyle = '#262626';
      ctx.font = '16px ' + FONT;
      ctx.textAlign = 'center'; ctx.textBaseline = 'middle';
      ctx.fillText(opts.yTitle, 0, 0);
    }
    ctx.restore();
  }
};

function buildDatasets(xs, series){
  return algorithms.map((name, i) => {
    const s = STYLE[name];
    return {
      label: name,
      data: series[i].map((v, k) => ({x: xs[k], y: v})),
      borderColor: s.c, backgroundColor: 'rgba(0,0,0,0)',
      borderWidth: 1.3, borderDash: s.dash || [],
      pointStyle: s.p || 'circle', pointRadius: s.p ? s.r : 0, pointRotation: s.rot,
      pointBorderColor: s.c, pointBackgroundColor: 'rgba(0,0,0,0)', pointBorderWidth: 1,
      tension: 0, clip: false, order: -i
    };
  });
}

function makeChart(id, cfg){
  return new Chart(document.getElementById(id), {
    type:'line',
    data:{datasets: buildDatasets(cfg.xs, cfg.series)},
    options:{
      responsive:false, animation:false, devicePixelRatio:1, events:[],
      layout:{padding:{left:0,right:12,top:0,bottom:0}},
      plugins:{
        legend:{display:false}, tooltip:{enabled:false},
        title:{display:true, text:cfg.title, fullSize:false, color:'#111',
          font:{family:FONT, size:16, weight:'bold', lineHeight:1.2}, padding:{top:6.8,bottom:2}},
        matlabFrame:{yTitle:cfg.yTitle, yTitleX:cfg.yTitleX}
      },
      scales:{
        x:{type:'linear', min:0, max:cfg.xMax,
          grid:{display:false, drawTicks:false}, border:{display:false},
          ticks:{stepSize:cfg.xStep, padding:5, color:'#3a3a3a', font:{family:FONT,size:15}, maxRotation:0, autoSkip:false},
          title:{display:true, text:cfg.xTitle, color:'#262626', font:{family:FONT,size:cfg.xTitleSize}, padding:{top:0,bottom:0}},
          afterFit: s => { s.height = 46; }},
        y:{type:'linear', min:cfg.yMin, max:cfg.yMax,
          grid:{display:false, drawTicks:false}, border:{display:false},
          afterBuildTicks: s => { s.ticks = cfg.yTicks.map(v => ({value:v})); },
          ticks:{padding:cfg.yPad, color:'#3a3a3a', font:{family:FONT,size:15}, callback: v => String(Math.round(v*100)/100)},
          afterFit: s => { s.width = cfg.yW; }}
      }
    },
    plugins:[matlabFrame]
  });
}

const accConvSeries = [accConv_WCC,accConv_LCA,accConv_GA,accConv_PSO,accConv_ACO,accConv_ICA,accConv_LA,accConv_HTS,accConv_FOA,accConv_DSOS,accConv_CUK];
const accAvgSeries = [accAvg_WCC,accAvg_LCA,accAvg_GA,accAvg_PSO,accAvg_ACO,accAvg_ICA,accAvg_LA,accAvg_HTS,accAvg_FOA,accAvg_DSOS,accAvg_CUK];
const accStabSeries = [accStab_WCC,accStab_LCA,accStab_GA,accStab_PSO,accStab_ACO,accStab_ICA,accStab_LA,accStab_HTS,accStab_FOA,accStab_DSOS,accStab_CUK];
const errConvSeries = [errConv_WCC,errConv_LCA,errConv_GA,errConv_PSO,errConv_ACO,errConv_ICA,errConv_LA,errConv_HTS,errConv_FOA,errConv_DSOS,errConv_CUK];
const errAvgSeries = [errAvg_WCC,errAvg_LCA,errAvg_GA,errAvg_PSO,errAvg_ACO,errAvg_ICA,errAvg_LA,errAvg_HTS,errAvg_FOA,errAvg_DSOS,errAvg_CUK];
const errStabSeries = [errStab_WCC,errStab_LCA,errStab_GA,errStab_PSO,errStab_ACO,errStab_ICA,errStab_LA,errStab_HTS,errStab_FOA,errStab_DSOS,errStab_CUK];

makeChart('c1',{title:'Convergence of accuracy', xTitle:'Iteration', xTitleSize:16, yTitle:'Accuracy', yTitleX:24, xs:iterations, series:accConvSeries, xMax:50, xStep:10, yMin:88, yMax:92, yTicks:accTicks, yW:59, yPad:6});
makeChart('c2',{title:'Average convegence of accuracy', xTitle:'Iteration', xTitleSize:16, yTitle:'Average accuracy of all samples', yTitleX:27, xs:iterations, series:accAvgSeries, xMax:50, xStep:10, yMin:88, yMax:92, yTicks:accTicks, yW:60, yPad:6});
makeChart('c3',{title:'Stability diagram of accuracy', xTitle:'Execution number', xTitleSize:17, yTitle:'Accuracy', yTitleX:35, xs:executions, series:accStabSeries, xMax:30, xStep:5, yMin:88, yMax:92, yTicks:accTicks, yW:68, yPad:7});
makeChart('c4',{title:'Convergence of Error', xTitle:'Iteration', xTitleSize:16, yTitle:'Error', yTitleX:12, xs:iterations, series:errConvSeries, xMax:50, xStep:10, yMin:0.08, yMax:0.12, yTicks:errTicks, yW:59, yPad:6});
makeChart('c5',{title:'Average convegence of error', xTitle:'Iteration', xTitleSize:16, yTitle:'Average RMSEof all samples', yTitleX:17, xs:iterations, series:errAvgSeries, xMax:50, xStep:10, yMin:0.08, yMax:0.12, yTicks:errTicks, yW:60, yPad:6});
makeChart('c6',{title:'Stability diagram of error', xTitle:'Execution number', xTitleSize:17, yTitle:'Error', yTitleX:22, xs:executions, series:errStabSeries, xMax:30, xStep:5, yMin:0.08, yMax:0.12, yTicks:errTicks, yW:68, yPad:7});

// Legend chart
const legendPlugin = {
  id:'matlabLegend',
  afterDraw(chart){
    const ctx = chart.ctx;
    ctx.save();
    ctx.fillStyle = '#fff';
    ctx.fillRect(7, 7, 87, 201);
    ctx.strokeStyle = '#555'; ctx.lineWidth = 1;
    ctx.strokeRect(7.5, 7.5, 86, 200);
    algorithms.forEach((name, i) => {
      const s = STYLE[name];
      const y = Math.round(19.5 + i*17.8) + 0.5;
      ctx.strokeStyle = s.c; ctx.lineWidth = 1.3;
      ctx.setLineDash(s.dash || []);
      ctx.beginPath(); ctx.moveTo(14, y); ctx.lineTo(53, y); ctx.stroke();
      ctx.setLineDash([]);
      if (s.p){
        ctx.fillStyle = 'rgba(0,0,0,0)'; ctx.lineWidth = 1;
        Chart.helpers.drawPoint(ctx, {pointStyle:s.p, radius:s.r, rotation:s.rot, borderWidth:1}, 33.5, y);
      }
      ctx.fillStyle = '#000';
      ctx.font = '13px ' + FONT;
      ctx.textAlign = 'left'; ctx.textBaseline = 'middle';
      ctx.fillText(name, 57, y + 0.5);
    });
    ctx.restore();
  }
};
new Chart(document.getElementById('lg'), {
  type:'line',
  data:{datasets:[]},
  options:{responsive:false, animation:false, devicePixelRatio:1, events:[],
    plugins:{legend:{display:false}, tooltip:{enabled:false}},
    scales:{x:{display:false}, y:{display:false}}},
  plugins:[legendPlugin]
});

// caption fitting
(function(){
  const l1 = document.getElementById('l1'), l2 = document.getElementById('l2'), l3 = document.getElementById('l3');
  const target = 1272;
  const s1 = target / l1.getBoundingClientRect().width;
  const s2 = target / l2.getBoundingClientRect().width;
  l1.style.transform = 'scaleX(' + s1 + ')';
  l2.style.transform = 'scaleX(' + s2 + ')';
  l3.style.transform = 'scaleX(' + ((s1 + s2) / 2) + ')';
})();
</script>
</body></html>
